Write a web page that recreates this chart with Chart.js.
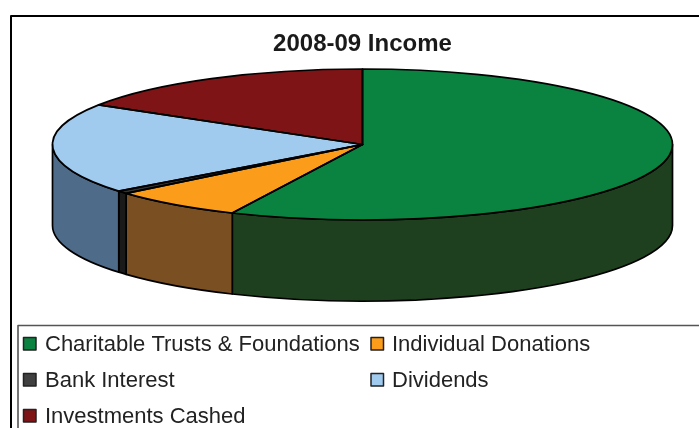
<!DOCTYPE html>
<html><head><meta charset="utf-8">
<script src="https://cdn.jsdelivr.net/npm/chart.js@4"></script>
<style>html,body{margin:0;padding:0;background:#fff}canvas{display:block;filter:blur(0.4px)}</style>
</head><body><div style="width:699px;height:428px"><canvas id="c" width="699" height="428"></canvas></div>
<script>
const titleText = "2008-09 Income";
const categories = ["Charitable Trusts & Foundations","Individual Donations","Bank Interest","Dividends","Investments Cashed"];
const values = [56.9, 6.9, 0.6, 19.4, 16.2];
const topColors = ["#0a8341","#fb9d1b","#333333","#a0caee","#7f1416"];
const wallColors = ["#1f401f","#7a4f22","#1a1a1a","#4f6b8a","#5a0e10"];
const FONT = '"Liberation Sans", Arial, sans-serif';
const RX = 310, DEPTH = 81;

function arcs(chart){ return chart.getDatasetMeta(0).data; }

const pie3d = {
  id:'pie3d',
  beforeDatasetsDraw(chart){
    const ctx = chart.ctx;
    arcs(chart).forEach((a,i)=>{
      const s = Math.max(a.startAngle,0), e = Math.min(a.endAngle,Math.PI);
      if(e<=s) return;
      const ry = a.outerRadius;
      ctx.beginPath();
      ctx.ellipse(a.x,a.y,RX,ry,0,s,e);
      ctx.ellipse(a.x,a.y+DEPTH,RX,ry,0,e,s,true);
      ctx.closePath();
      ctx.fillStyle = wallColors[i];
      ctx.fill();
      ctx.lineWidth = 1.7; ctx.strokeStyle = '#000'; ctx.lineJoin='round';
      ctx.stroke();
    });
    const a0 = arcs(chart)[0];
    ctx.save();
    ctx.translate(a0.x,0); ctx.scale(RX/a0.outerRadius,1); ctx.translate(-a0.x,0);
  },
  afterDatasetsDraw(chart){
    const ctx = chart.ctx;
    ctx.restore();
    arcs(chart).forEach(a=>{
      ctx.beginPath();
      ctx.moveTo(a.x,a.y);
      ctx.ellipse(a.x,a.y,RX,a.outerRadius,0,a.startAngle,a.endAngle);
      ctx.closePath();
      ctx.lineWidth = 1.7; ctx.strokeStyle = '#000'; ctx.lineJoin='round';
      ctx.stroke();
    });
  }
};

const frames = {
  id:'frames',
  afterDraw(chart){
    const ctx = chart.ctx;
    ctx.save();
    ctx.strokeStyle='#000'; ctx.lineWidth=2;
    ctx.beginPath(); ctx.moveTo(11,450); ctx.lineTo(11,16); ctx.lineTo(720,16); ctx.stroke();
    ctx.strokeStyle='#555'; ctx.lineWidth=1.6;
    ctx.beginPath(); ctx.moveTo(18,450); ctx.lineTo(18,325.5); ctx.lineTo(720,325.5); ctx.stroke();
    const cols=[{s:23.5,t:45},{s:371,t:392}], rows=[344,380,416];
    ctx.textBaseline='middle'; ctx.textAlign='left'; ctx.font='22px '+FONT;
    chart.data.labels.forEach((lab,i)=>{
      const c=cols[i%2], y=rows[Math.floor(i/2)];
      ctx.fillStyle=i===2?'#404040':topColors[i];
      ctx.strokeStyle='#222'; ctx.lineWidth=1.5;
      ctx.fillRect(c.s,y-6.5,12.5,12.5); ctx.strokeRect(c.s,y-6.5,12.5,12.5);
      ctx.fillStyle='#222';
      ctx.fillText(lab,c.t,y+1);
    });
    ctx.restore();
  }
};

new Chart(document.getElementById('c'),{
  type:'pie',
  data:{labels:categories,datasets:[{data:values,backgroundColor:topColors,borderWidth:0,clip:false}]},
  options:{
    responsive:false,animation:false,events:[],
    layout:{padding:{left:26,right:0,top:16,bottom:208}},
    plugins:{
      legend:{display:false},tooltip:{enabled:false},
      title:{display:true,text:titleText,color:'#1a1a1a',font:{family:FONT,size:24,weight:'bold'},padding:{top:14,bottom:10.2}}
    }
  },
  plugins:[pie3d,frames]
});
</script></body></html>
